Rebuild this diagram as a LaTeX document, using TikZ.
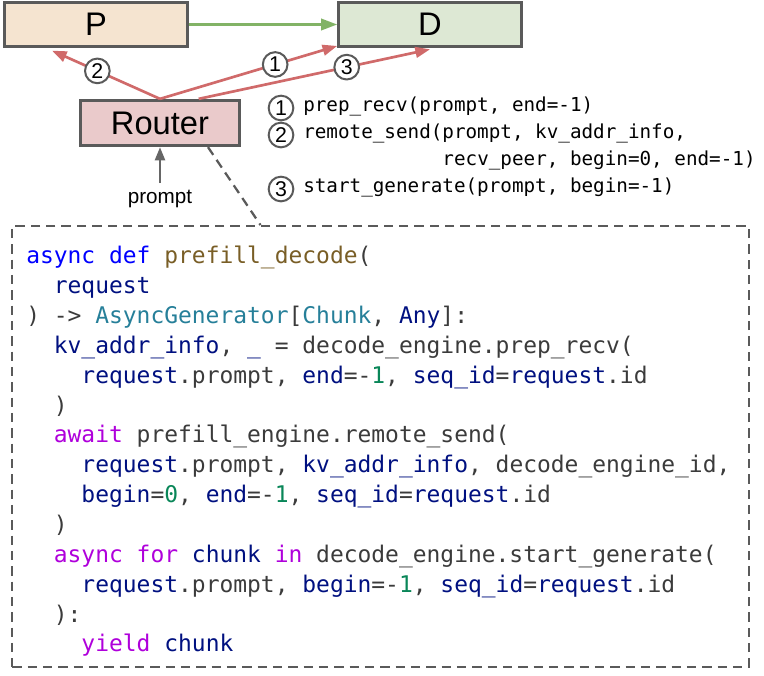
\documentclass[tikz,border=0pt]{standalone}
\usepackage{fontspec}
\usepackage{tikz}
\usetikzlibrary{arrows.meta,positioning}

\newfontfamily\labelfont{Liberation Sans}
\newfontfamily\codefont{DejaVu Sans Mono}

\definecolor{pfill}{HTML}{F5E4D0}
\definecolor{dfill}{HTML}{DDE8D4}
\definecolor{rfill}{HTML}{EACACB}
\definecolor{boxgray}{HTML}{5A5A5A}
\definecolor{redline}{HTML}{D06A6A}
\definecolor{greenline}{HTML}{82B366}
\definecolor{arrowgray}{HTML}{666666}
\definecolor{codegray}{HTML}{3B3B3B}
\definecolor{kwblue}{HTML}{0000FF}
\definecolor{fnbrown}{HTML}{795E26}
\definecolor{varnavy}{HTML}{001080}
\definecolor{typeteal}{HTML}{267F99}
\definecolor{numgreen}{HTML}{098658}
\definecolor{flowpurple}{HTML}{AF00DB}

\newcommand{\ckw}[1]{\textcolor{kwblue}{#1}}
\newcommand{\cfn}[1]{\textcolor{fnbrown}{#1}}
\newcommand{\cvar}[1]{\textcolor{varnavy}{#1}}
\newcommand{\ctype}[1]{\textcolor{typeteal}{#1}}
\newcommand{\cnum}[1]{\textcolor{numgreen}{#1}}
\newcommand{\cflow}[1]{\textcolor{flowpurple}{#1}}
\newcommand{\codeindent}{\phantom{xx}}

\begin{document}
\begin{tikzpicture}[x=0.75pt,y=-0.75pt,
  engine/.style={draw=boxgray, line width=2.2pt, minimum width=137pt, minimum height=33pt,
    font=\labelfont\fontsize{24.5}{28}\selectfont},
  num/.style={circle, draw=boxgray, line width=1.5pt, fill=white, minimum size=18.5pt,
    inner sep=0pt, font=\labelfont\fontsize{16}{16}\selectfont},
  legend/.style={font=\codefont\fontsize{14.45}{17}\selectfont, inner sep=0pt, anchor=west,
    text height=8pt, text depth=2.5pt},
  redarrow/.style={draw=redline, line width=2pt, -{Triangle[length=11pt,width=8pt]}},
  dashline/.style={draw=boxgray, line width=1.7pt, dash pattern=on 7pt off 4.5pt}]
  \useasboundingbox (0,0) rectangle (764,675);

  \node[engine, fill=pfill] (P) at (96,24.5) {P};
  \node[engine, fill=dfill] (D) at (430,24.5) {D};
  \node[engine, fill=rfill, minimum width=119pt, minimum height=34pt] (router) at (160,123) {Router};
  \node[font=\labelfont\fontsize{15.5}{16}\selectfont, inner sep=5pt] (prompt) at (160,199) {prompt};

  \draw[draw=greenline, line width=1.8pt, -{Triangle[length=12pt,width=8.5pt]}] (P.east) -- (D.west);
  \draw[redarrow] (router.north) -- node[num, pos=0.58] {2} ([xshift=-33pt,yshift=-2pt]P.south);
  \draw[redarrow] (router.north) -- node[num, pos=0.65] {1} ([yshift=1.5pt]D.south west);
  \draw[redarrow] ([xshift=29pt]router.north) -- node[num, pos=0.64] {3} ([yshift=-1pt]D.south);
  \draw[draw=arrowgray, line width=2pt, -{Triangle[length=10pt,width=7.5pt]}] (prompt.north) -- (router.south);

  \node[num] (n1) at (281,108) {1};
  \node[legend] (l1) at (303,108) {prep\_recv(prompt, end=-1)};
  \node[num] (n2) at (281,135) {2};
  \node[legend] (l2) at (303,135) {remote\_send(prompt, kv\_addr\_info,};
  \node[legend] (l2b) at (303,162) {\phantom{remote\_send(}recv\_peer, begin=0, end=-1)};
  \node[num] (n3) at (281,189) {3};
  \node[legend] (l3) at (303,189) {start\_generate(prompt, begin=-1)};

  \node[dashline, minimum width=552.5pt, minimum height=330.5pt] (code) at (380.5,446.5) {};
  \draw[dashline] ([xshift=36pt]router.south) -- ([xshift=-90pt]code.north);

  \node[anchor=north west, inner sep=0pt, align=left, text=codegray,
    font=\codefont\fontsize{17.2}{22.39}\selectfont] (codetext) at (26,246) {%
\ckw{async def} \cfn{prefill\_decode}(\\
\codeindent\cvar{request}\\
) -> \ctype{AsyncGenerator}[\ctype{Chunk}, \cvar{Any}]:\\
\codeindent\cvar{kv\_addr\_info}, \cvar{\_} = decode\_engine.prep\_recv(\\
\codeindent\codeindent\cvar{request}.prompt, \cvar{end}=-\cnum{1}, \cvar{seq\_id}=\cvar{request}.id\\
\codeindent)\\
\codeindent\cflow{await} prefill\_engine.remote\_send(\\
\codeindent\codeindent\cvar{request}.prompt, \cvar{kv\_addr\_info}, decode\_engine\_id,\\
\codeindent\codeindent\cvar{begin}=\cnum{0}, \cvar{end}=-\cnum{1}, \cvar{seq\_id}=\cvar{request}.id\\
\codeindent)\\
\codeindent\cflow{async for} \cvar{chunk} \cflow{in} decode\_engine.start\_generate(\\
\codeindent\codeindent\cvar{request}.prompt, \cvar{begin}=-\cnum{1}, \cvar{seq\_id}=\cvar{request}.id\\
\codeindent):\\
\codeindent\codeindent\cflow{yield} \cvar{chunk}};
\end{tikzpicture}
\end{document}
